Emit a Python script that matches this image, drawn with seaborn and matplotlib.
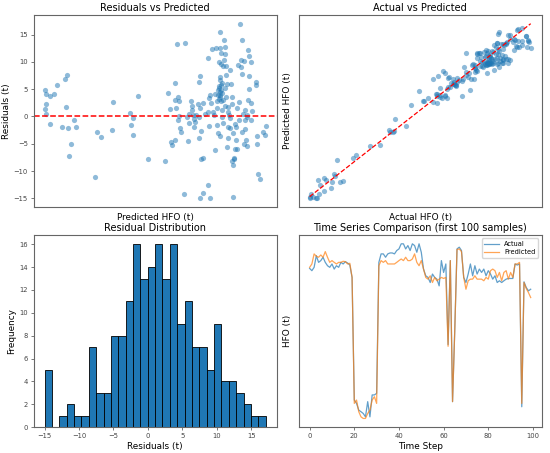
import numpy as np
import pandas as pd
import matplotlib
matplotlib.use("Agg")
import matplotlib.pyplot as plt
import seaborn as sns

# predicted HFO (t) and residual (actual - predicted) for each test sample
pred = [6.7, 6.8, 7.2, 6.3, 7.0, 9.0, 11.2, 13.3, 17.6, 18.4, 18.0, 18.9, 19.4, 20.5, 22.3, 23.2, 15.5, 9.4,
        33.7, 34.6, 36.7, 43.2, 43.7, 52.9, 53.5, 54.2, 54.5, 57.2, 62.6, 72.0,
        73.6, 74.5, 75.1, 75.4, 77.0, 77.4, 77.9, 78.3, 78.7, 79.2, 79.4, 78.7, 80.1, 80.3, 77.2, 82.1,
        82.8, 83.5, 84.2, 85.0, 85.7, 86.4, 86.6, 86.9, 87.3, 87.8, 88.7, 89.5, 90.0, 90.4, 90.9, 90.5,
        90.7, 91.3, 91.6, 92.2, 92.5, 90.9, 95.0, 96.1, 94.9, 93.6, 94.9, 95.6, 96.1, 96.7, 97.2, 99.4,
        100.3, 100.4, 101.2, 101.5, 101.7, 101.9, 102.1, 102.2, 101.5, 101.2, 101.7, 100.8, 101.9, 102.4,
        102.6, 102.8, 103.1, 103.5, 103.9, 104.0, 104.4, 104.4, 104.9, 105.1, 105.3, 104.4, 104.9, 105.8,
        106.2, 106.6, 106.9, 106.2, 107.3, 106.9, 107.6, 108.0, 108.4, 108.9, 109.1, 109.3, 108.7, 108.9,
        109.6, 110.2, 110.3, 111.1, 110.7, 111.8, 112.1, 112.7, 112.9, 113.0, 113.4, 113.9, 114.3, 114.8,
        114.5, 115.0, 115.4, 115.7, 116.1, 116.5, 116.3, 116.8, 117.2, 117.4, 117.7, 118.3, 118.4, 118.8,
        119.2, 121.0, 121.1, 121.7, 122.0, 122.2, 123.5, 125.1, 126.0, 126.5, 115.2, 99.0, 99.9, 98.1,
        98.6, 92.3, 111.2, 105.7, 108.0, 101.2, 102.2, 101.5, 102.6, 101.0, 102.1, 103.0, 100.5, 103.3,
        101.8, 104.6, 100.0, 88.2, 84.8, 109.9, 106.0, 117.0, 113.5, 95.5, 99.2]
resid = [4.8, 4.2, 2.2, 1.3, 0.5, 3.7, 4.2, 5.8, 6.9, 7.6, 1.7, -2.2, -7.3, -5.1, -0.6, -2.0, -2.0, -1.4,
         -11.1, -2.9, -3.7, -2.5, 2.6, 0.7, -1.5, -0.2, -3.4, 3.8, -7.8, -8.2,
         4.3, 1.3, -4.6, -5.2, 6.2, 3.1, 1.6, 13.3, 3.5, 2.9, 0.0, -0.6, -2.1, -2.9, -4.3, -14.2,
         13.5, -0.1, -4.5, -1.2, 2.9, 2.0, 1.1, 0.2, -0.4, -2.0, 0.3, 2.2, -0.1, 6.3, 7.4, -3.9,
         1.6, -2.6, -7.8, -7.6, -14.1, -15.0, -12.5, -15.0, 10.8, 0.5, 0.8, 3.4, 4.0, 2.5, 12.4, 12.6,
         -1.5, -3.1, 10.0, -3.6, 15.5, 12.6, 11.6, 9.7, 6.6, 5.3, 4.5, 4.0, 3.6, 2.9,
         1.1, -0.1, -1.2, 9.2, 10.4, 14.1, 12.8, 11.5, 9.3, 7.6, 6.0, 5.3, 3.6, 1.8,
         0.9, 0.2, -2.1, -2.0, -0.2, 8.5, 6.0, 3.6, 2.3, -3.1, -7.8, -7.6, -8.9, -14.8,
         -5.9, -4.3, -2.0, -5.9, 1.6, 2.7, -0.7, 17.0, 9.1, 10.3, 14.1, 7.8, 0.5, 10.2,
         -5.0, 1.2, -2.3, -4.4, 0.2, -0.1, -5.5, 12.1, 11.0, 7.5, 5.0, 10.0, 2.4, -0.7,
         1.0, 6.3, 5.8, -3.6, -5.1, -10.5, -11.5, -2.9, -3.4, -1.8, -0.7, 4.2, 2.9, 0.8,
         0.2, 2.5, 9.4, -5.6, -8.1, 5.6, 4.9, 3.9, 4.3, 3.2, 5.7, 6.1, 4.8, 3.0,
         7.3, 2.0, 1.5, -1.0, 0.5, -1.3, -3.9, 3.0, -2.9, -1.8, -6.2]

# residual histogram (30 bins)
hist_counts = [5, 0, 1, 2, 1, 1, 7, 3, 3, 8, 8, 11, 16, 13, 14, 16, 13, 16, 9, 11,
               7, 7, 5, 9, 4, 4, 3, 2, 1, 1]
hist_min, hist_max = -15.0, 17.1

# first 100 samples of the test series
ts_actual = [120.5, 118.8, 121.3, 130.0, 125.0, 126.3, 128.8, 125.0, 122.5, 121.3,
             123.8, 120.0, 122.5, 121.3, 125.0, 123.8, 125.5, 124.5, 123.0, 113.8,
             22.5, 20.0, 15.0, 13.8, 12.5, 10.0, 21.3, 10.0, 26.3, 26.3,
             27.5, 125.0, 131.3, 131.3, 128.8, 131.3, 132.0, 132.0, 131.3, 133.8,
             135.0, 138.8, 138.8, 135.0, 137.5, 133.8, 138.8, 137.5, 132.5, 138.8,
             132.5, 120.0, 115.0, 113.8, 110.0, 116.3, 113.8, 112.5, 107.5, 126.3,
             117.5, 123.8, 63.8, 126.3, 21.3, 75.0, 135.0, 136.3, 133.8, 113.8,
             110.0, 116.3, 123.8, 115.0, 122.5, 116.3, 120.0, 117.5, 120.0, 115.0,
             118.8, 116.3, 112.5, 115.0, 110.0, 111.3, 110.0, 111.3, 112.5, 113.0,
             113.0, 113.0, 123.8, 123.0, 123.8, 17.5, 110.5, 106.3, 103.8, 105.0]
ts_pred = [121.3, 123.8, 131.3, 129.5, 128.8, 130.5, 128.8, 133.0, 128.8, 125.0,
           126.3, 125.0, 123.8, 125.0, 125.0, 125.8, 125.5, 123.8, 124.3, 113.8,
           20.0, 22.5, 13.8, 10.0, 8.8, 8.8, 12.5, 15.0, 22.5, 25.0,
           20.0, 122.5, 126.3, 125.0, 126.3, 123.8, 123.8, 123.8, 123.8, 125.0,
           126.3, 127.5, 126.3, 128.8, 126.3, 126.3, 127.5, 131.3, 125.0, 122.5,
           126.3, 120.0, 113.8, 112.5, 115.0, 110.0, 113.8, 111.3, 112.5, 113.8,
           113.0, 113.8, 62.5, 126.3, 21.3, 75.0, 134.5, 135.0, 133.0, 113.8,
           105.0, 111.3, 112.5, 112.5, 115.0, 112.5, 112.5, 112.5, 111.3, 113.8,
           112.5, 118.8, 120.0, 118.8, 113.8, 117.5, 111.3, 117.5, 118.8, 112.5,
           117.5, 113.8, 123.8, 123.8, 125.0, 20.0, 110.0, 105.5, 102.5, 98.8]

pred = np.array(pred)
resid = np.array(resid)
actual = pred + resid
steps = np.arange(len(ts_actual))
edges = np.linspace(hist_min, hist_max, len(hist_counts) + 1)
hist_df = pd.DataFrame({'res': (edges[:-1] + edges[1:]) / 2, 'count': hist_counts})

plt.rcParams['font.family'] = ['DejaVu Sans']
plt.rcParams['axes.edgecolor'] = '#666666'
plt.rcParams['axes.linewidth'] = 0.8
plt.rcParams['xtick.labelsize'] = 4.9
plt.rcParams['ytick.labelsize'] = 4.9
plt.rcParams['xtick.major.size'] = 2
plt.rcParams['ytick.major.size'] = 2
plt.rcParams['xtick.major.width'] = 0.5
plt.rcParams['ytick.major.width'] = 0.5
plt.rcParams['xtick.major.pad'] = 2
plt.rcParams['ytick.major.pad'] = 2
plt.rcParams['xtick.color'] = '#444444'
plt.rcParams['ytick.color'] = '#444444'

fig, axes = plt.subplots(2, 2, figsize=(5.5, 4.53), dpi=100)
fig.subplots_adjust(left=0.061, right=0.985, bottom=0.057, top=0.967, wspace=0.09, hspace=0.146)
label_fs = 6.4
title_fs = 7

# residuals vs predicted
ax = axes[0, 0]
sns.scatterplot(x=pred, y=resid, ax=ax, color='#1f77b4', alpha=0.5, s=14, linewidth=0)
ax.axhline(0, color='red', linestyle='--', linewidth=1.1)
ax.set_xticks([])
ax.set_title('Residuals vs Predicted', fontsize=title_fs, pad=3)
ax.set_xlabel('Predicted HFO (t)', fontsize=label_fs, labelpad=4)
ax.set_ylabel('Residuals (t)', fontsize=label_fs, labelpad=2)

# actual vs predicted
ax = axes[0, 1]
sns.scatterplot(x=actual, y=pred, ax=ax, color='#1f77b4', alpha=0.5, s=14, linewidth=0)
lo, hi = actual.min(), actual.max()
ax.plot([lo, hi], [lo, hi], color='red', linestyle='--', linewidth=0.9)
ax.set_xticks([])
ax.set_yticks([])
ax.set_title('Actual vs Predicted', fontsize=title_fs, pad=3)
ax.set_xlabel('Actual HFO (t)', fontsize=label_fs, labelpad=4)
ax.set_ylabel('Predicted HFO (t)', fontsize=label_fs, labelpad=5)

# residual distribution
ax = axes[1, 0]
sns.histplot(data=hist_df, x='res', weights='count', bins=list(edges), ax=ax, color='#1f77b4',
             alpha=1, edgecolor='black', linewidth=0.6)
ax.set_title('Residual Distribution', fontsize=title_fs, pad=3)
ax.set_xlabel('Residuals (t)', fontsize=label_fs, labelpad=2)
ax.set_ylabel('Frequency', fontsize=label_fs, labelpad=2)

# time series comparison
ax = axes[1, 1]
sns.lineplot(x=steps, y=ts_actual, ax=ax, label='Actual', color='#1f77b4', alpha=0.7, linewidth=0.9)
sns.lineplot(x=steps, y=ts_pred, ax=ax, label='Predicted', color='#ff7f0e', alpha=0.7, linewidth=0.9)
ax.set_yticks([])
ax.set_title('Time Series Comparison (first 100 samples)', fontsize=title_fs, pad=3)
ax.set_xlabel('Time Step', fontsize=label_fs, labelpad=2)
ax.set_ylabel('HFO (t)', fontsize=label_fs, labelpad=5)
ax.legend(loc='upper right', fontsize=4.8, handlelength=2.2, borderpad=0.4, labelspacing=0.3,
          edgecolor='#cccccc')

fig.savefig('out.png', dpi=100)
